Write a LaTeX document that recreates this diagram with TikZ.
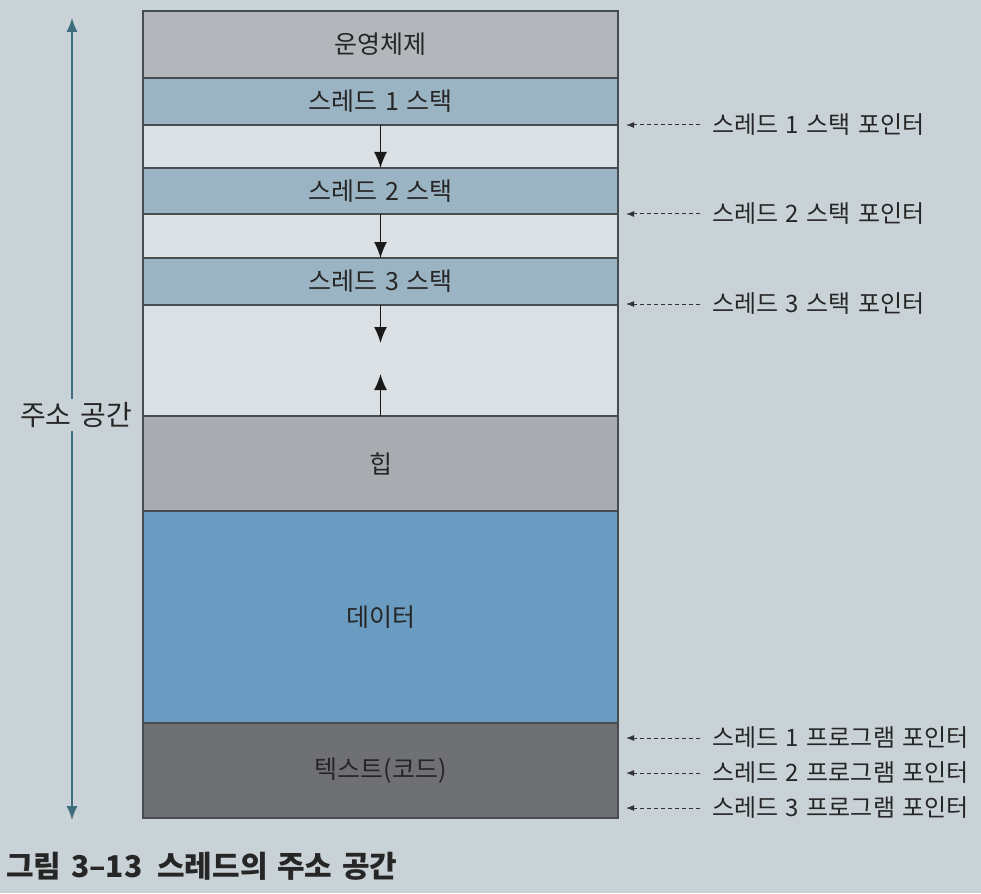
\documentclass[tikz,border=0pt]{standalone}
\usepackage{fontspec}
\usepackage{xcolor}
\setmainfont[WordSpace=1.4]{Noto Sans CJK KR}
\usetikzlibrary{arrows.meta,positioning}

\definecolor{paper}{HTML}{C9D2D6}
\definecolor{osgray}{HTML}{B3B7BB}
\definecolor{stackblue}{HTML}{9BB4C3}
\definecolor{freegap}{HTML}{DAE0E4}
\definecolor{heapgray}{HTML}{A8ACB1}
\definecolor{datablue}{HTML}{6A9BC0}
\definecolor{codegray}{HTML}{6E7074}
\definecolor{spanteal}{HTML}{3E6E7E}
\definecolor{edge}{HTML}{474C52}

\tikzset{
  seg/.style={draw=edge,line width=1.2pt,minimum width=475pt,outer sep=0pt,inner sep=0pt,
    font=\fontsize{25}{28}\selectfont,text=black!85},
  growarrow/.style={line width=1.4pt,-{Latex[length=16pt,width=13pt]},black!90},
  ptr/.style={anchor=west,inner sep=0pt,font=\fontsize{24}{27}\selectfont,text=black!85},
  ptrline/.style={dashed,dash pattern=on 4pt off 3pt,line width=1pt,black!80,
    -{Latex[length=8pt,width=6pt]}},
}

\begin{document}
\begin{tikzpicture}[x=1pt,y=-1pt]
  \useasboundingbox[fill=paper] (0,0) rectangle (981,893);

  % the address space, top to bottom
  \node[seg,fill=osgray,minimum height=67pt] (os) at (380.5,44.5) {운영체제};
  \node[seg,fill=stackblue,minimum height=47pt,below=0pt of os] (st1) {스레드 1 스택};
  \node[seg,fill=freegap,minimum height=43pt,below=0pt of st1] (gap1) {};
  \node[seg,fill=stackblue,minimum height=46pt,below=0pt of gap1] (st2) {스레드 2 스택};
  \node[seg,fill=freegap,minimum height=44pt,below=0pt of st2] (gap2) {};
  \node[seg,fill=stackblue,minimum height=47pt,below=0pt of gap2] (st3) {스레드 3 스택};
  \node[seg,fill=freegap,minimum height=111pt,below=0pt of st3] (gap3) {};
  \node[seg,fill=heapgray,minimum height=95pt,below=0pt of gap3] (heap) {힙};
  \node[seg,fill=datablue,minimum height=212pt,below=0pt of heap] (data) {데이터};
  \node[seg,fill=codegray,minimum height=95pt,below=0pt of data] (code) {텍스트(코드)};

  % stacks grow down, heap grows up
  \draw[growarrow] (st1.south) -- (st2.north);
  \draw[growarrow] (st2.south) -- (st3.north);
  \coordinate[below=38pt of st3.south] (st3end);
  \coordinate[above=42pt of heap.north] (heapend);
  \draw[growarrow] (st3.south) -- (st3end);
  \draw[growarrow] (heap.north) -- (heapend);

  % whole span
  \node[font=\fontsize{28}{30}\selectfont,text=black!85] (span) at (76,415) {주소 공간};
  \coordinate (spantop) at (72,18);
  \coordinate (spanbot) at (72,820);
  \draw[spanteal,line width=1.3pt,-{Latex[length=14pt,width=11pt]}] (span.north -| spantop) -- (spantop);
  \draw[spanteal,line width=1.3pt,-{Latex[length=14pt,width=11pt]}] (span.south -| spanbot) -- (spanbot);

  % pointers
  \coordinate (tip) at (626,0);
  \node[ptr] (sp1) at (712,125) {스레드 1 스택 포인터};
  \node[ptr] (sp2) at (712,214) {스레드 2 스택 포인터};
  \node[ptr] (sp3) at (712,304) {스레드 3 스택 포인터};
  \node[ptr] (pc1) at (712,738) {스레드 1 프로그램 포인터};
  \node[ptr] (pc2) at (712,773) {스레드 2 프로그램 포인터};
  \node[ptr] (pc3) at (712,808) {스레드 3 프로그램 포인터};
  \foreach \p in {sp1,sp2,sp3,pc1,pc2,pc3}
    \draw[ptrline] ([xshift=-12pt]\p.west) -- (\p.west -| tip);

  \node[anchor=west,inner sep=0pt,font=\fontsize{30}{32}\selectfont\bfseries,text=black!85] (cap)
    at (6,866) {그림 3–13\enspace 스레드의 주소 공간};
\end{tikzpicture}
\end{document}
